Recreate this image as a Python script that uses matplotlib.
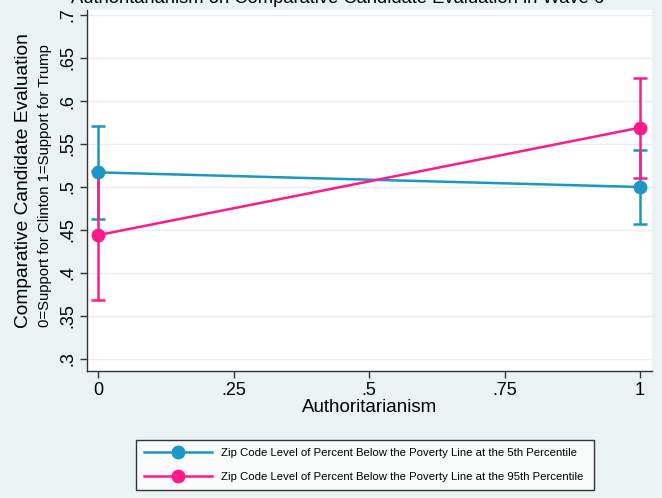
import matplotlib.pyplot as plt
from matplotlib.lines import Line2D

plt.rcParams['font.family'] = ['Liberation Sans', 'DejaVu Sans']

# Datos
authoritarianism = [0, 1]
low_pov = [0.517, 0.500]
low_pov_lo = [0.463, 0.457]
low_pov_hi = [0.571, 0.543]
high_pov = [0.444, 0.569]
high_pov_lo = [0.369, 0.510]
high_pov_hi = [0.519, 0.627]

yticks = [0.3, 0.35, 0.4, 0.45, 0.5, 0.55, 0.6, 0.65, 0.7]
ytick_labels = ['.3', '.35', '.4', '.45', '.5', '.55', '.6', '.65', '.7']
xticks = [0, 0.25, 0.5, 0.75, 1]
xtick_labels = ['0', '.25', '.5', '.75', '1']

blue = '#1a97c5'
pink = '#ff1a8c'
bg = '#eaf2f3'

fig = plt.figure(figsize=(6.62, 4.98), dpi=100, facecolor=bg)
ax = fig.add_axes([87/662, 1 - 371/498, (652 - 87)/662, (371 - 10)/498])
ax.set_facecolor('white')

# Intervalos de confianza
for x, lo, hi in zip(authoritarianism, low_pov_lo, low_pov_hi):
    ax.errorbar([x], [(lo + hi) / 2], yerr=[[(hi - lo) / 2], [(hi - lo) / 2]],
                fmt='none', ecolor=blue, elinewidth=1.8, capsize=5, capthick=1.8, zorder=2)
for x, lo, hi in zip(authoritarianism, high_pov_lo, high_pov_hi):
    ax.errorbar([x], [(lo + hi) / 2], yerr=[[(hi - lo) / 2], [(hi - lo) / 2]],
                fmt='none', ecolor=pink, elinewidth=1.8, capsize=5, capthick=1.8, zorder=3)

# Líneas con marcadores
ax.plot(authoritarianism, low_pov, color=blue, lw=1.8, marker='o', ms=9, zorder=4)
ax.plot(authoritarianism, high_pov, color=pink, lw=1.8, marker='o', ms=9, zorder=5)

ax.set_xlim(-11/542, 1 + 12/542)
ax.set_ylim(0.3 - 12/860, 0.7 + 5/860)
ax.set_yticks(yticks)
ax.set_yticklabels(ytick_labels, rotation=90, va='center', fontsize=13)
ax.set_xticks(xticks)
ax.set_xticklabels(xtick_labels, fontsize=13)
ax.tick_params(direction='out', length=5, width=1, color='#333333', pad=3)
ax.grid(True, axis='y', color='#e6eef0', lw=1, zorder=0)
ax.set_axisbelow(True)

for s in ['top', 'right']:
    ax.spines[s].set_visible(False)
for s in ['left', 'bottom']:
    ax.spines[s].set_color('#333333')
    ax.spines[s].set_linewidth(1)

ax.set_xlabel('Authoritarianism', fontsize=13.5, labelpad=0)

# Etiqueta del eje Y en dos líneas
fig.text(24/662, 1 - 181/498, 'Comparative Candidate Evaluation', rotation=90,
         ha='center', va='center', fontsize=13.8)
fig.text(45/662, 1 - 186/498, '0=Support for Clinton 1=Support for Trump', rotation=90,
         ha='center', va='center', fontsize=10.7)

# Título (cortado en la parte superior)
fig.text(338/662, 1 - 3/498, 'Authoritarianism on Comparative Candidate Evaluation in Wave 6',
         ha='center', va='baseline', fontsize=13.2)

# Leyenda
handles = [
    Line2D([], [], color=blue, lw=1.8, marker='o', ms=9),
    Line2D([], [], color=pink, lw=1.8, marker='o', ms=9),
]
labels = ['Zip Code Level of Percent Below the Poverty Line at the 5th Percentile',
          'Zip Code Level of Percent Below the Poverty Line at the 95th Percentile']
leg = fig.legend(handles, labels, loc='lower left',
                 bbox_to_anchor=(130/662, 2/498, (600 - 130)/662, (496 - 433)/498),
                 mode='expand', fontsize=8.2, frameon=True, fancybox=False,
                 edgecolor='black', handlelength=6, borderpad=0.7, labelspacing=1.3)
leg.get_frame().set_linewidth(1)

fig.savefig('out.png', dpi=100, facecolor=bg)
